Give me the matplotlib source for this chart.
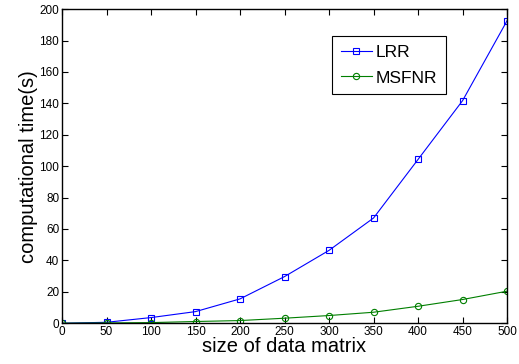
import numpy as np
import matplotlib.pyplot as plt

plt.rcParams['font.family'] = ['Liberation Sans', 'DejaVu Sans']

# size of data matrix
sizes = [0, 50, 100, 150, 200, 250, 300, 350, 400, 450, 500]
# computational time (s)
lrr = [0.0, 0.6, 3.6, 7.4, 15.5, 29.7, 46.4, 67.0, 104.3, 141.7, 192.6]
msfnr = [0.0, 0.2, 0.4, 1.1, 1.7, 3.2, 4.9, 7.0, 10.8, 15.1, 20.4]

fig = plt.figure(figsize=(5.19, 3.64), dpi=100)
ax = fig.add_axes([0.1195, 0.112, 0.8575, 0.863])

ax.plot(sizes, lrr, color='blue', lw=0.8, marker='s', ms=4,
        mfc='none', mew=0.8, label='LRR')
ax.plot(sizes, msfnr, color='#007f00', lw=0.8, marker='o', ms=4.5,
        mfc='none', mew=0.8, label='MSFNR')

ax.set_xlim(0, 500)
ax.set_ylim(0, 200)
ax.set_xticks(np.arange(0, 501, 50))
ax.set_yticks(np.arange(0, 201, 20))
ax.tick_params(direction='in', top=True, right=True, labelsize=8.5, length=4, pad=2)
for s in ax.spines.values():
    s.set_linewidth(1.0)

ax.set_xlabel('size of data matrix', fontsize=14.5, labelpad=-1)
ax.set_ylabel('computational time(s)', fontsize=14.5, labelpad=1)

leg = ax.legend(loc='upper left', bbox_to_anchor=(0.607, 0.914), borderaxespad=0,
                fontsize=12.5, fancybox=False, edgecolor='black', framealpha=1,
                handlelength=1.8, borderpad=0.5, labelspacing=0.6, handletextpad=0.2)
leg.get_frame().set_linewidth(0.8)

fig.savefig('out.png', dpi=100)
